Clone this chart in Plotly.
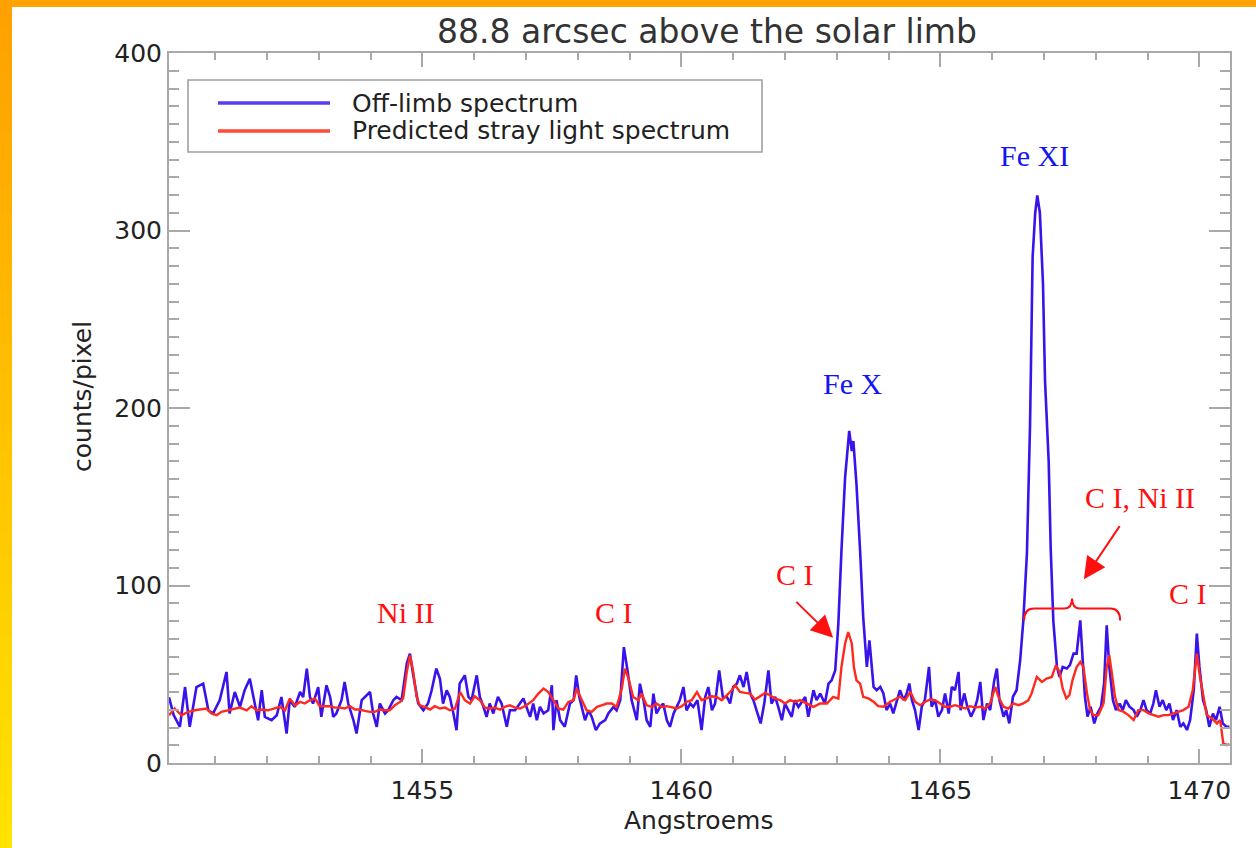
import plotly.graph_objects as go

# ---------------- data ----------------
blue_wl = [
    1450.11, 1450.20, 1450.32, 1450.42, 1450.51, 1450.64, 1450.77, 1450.87, 1450.96, 1451.09,
    1451.22, 1451.28, 1451.38, 1451.48, 1451.57, 1451.67, 1451.74, 1451.83, 1451.90, 1451.96,
    1452.09, 1452.19, 1452.28, 1452.38, 1452.44, 1452.54, 1452.64, 1452.70, 1452.77, 1452.83,
    1452.89, 1452.99, 1453.05, 1453.15, 1453.22, 1453.28, 1453.34, 1453.44, 1453.50, 1453.57,
    1453.67, 1453.73, 1453.83, 1453.89, 1453.99, 1454.05, 1454.12, 1454.18, 1454.28, 1454.34,
    1454.44, 1454.50, 1454.60, 1454.70, 1454.76, 1454.82, 1454.92, 1455.02, 1455.11, 1455.18,
    1455.27, 1455.34, 1455.40, 1455.47, 1455.53, 1455.60, 1455.66, 1455.72, 1455.82, 1455.89,
    1455.95, 1456.05, 1456.11, 1456.18, 1456.24, 1456.30, 1456.37, 1456.46, 1456.53, 1456.63,
    1456.69, 1456.79, 1456.88, 1456.95,
    1457.08, 1457.14, 1457.21, 1457.27, 1457.34, 1457.43, 1457.50, 1457.53, 1457.59, 1457.66,
    1457.75, 1457.85, 1457.92, 1457.97, 1458.03, 1458.08, 1458.14, 1458.21, 1458.27, 1458.35,
    1458.43, 1458.53, 1458.59, 1458.69, 1458.75, 1458.82, 1458.89, 1458.96, 1459.04, 1459.14,
    1459.20, 1459.27, 1459.33, 1459.40, 1459.46, 1459.52, 1459.59, 1459.65, 1459.72, 1459.78,
    1459.85, 1459.91, 1459.97, 1460.04, 1460.10, 1460.17, 1460.23, 1460.31, 1460.39, 1460.46,
    1460.52, 1460.59, 1460.65, 1460.73, 1460.80, 1460.88, 1460.94, 1461.00, 1461.07, 1461.13,
    1461.20, 1461.26, 1461.33, 1461.39, 1461.47, 1461.53, 1461.60, 1461.68, 1461.74, 1461.81,
    1461.87, 1461.94, 1462.00, 1462.07, 1462.13, 1462.19, 1462.26,
    1462.39, 1462.45, 1462.55, 1462.61, 1462.68, 1462.77, 1462.84, 1462.90, 1462.97, 1463.03,
    1463.09, 1463.16, 1463.24, 1463.29, 1463.32, 1463.38, 1463.45, 1463.51, 1463.58, 1463.63,
    1463.71, 1463.77, 1463.84, 1463.90, 1463.96, 1464.03, 1464.09, 1464.16, 1464.22, 1464.29,
    1464.35, 1464.40, 1464.45, 1464.51, 1464.58, 1464.64, 1464.70, 1464.78, 1464.83, 1464.90,
    1464.96, 1465.03, 1465.09, 1465.16, 1465.22, 1465.28, 1465.35, 1465.39, 1465.46, 1465.52,
    1465.59, 1465.65, 1465.71, 1465.77, 1465.83, 1465.90, 1465.96, 1466.04, 1466.09, 1466.14,
    1466.22, 1466.27, 1466.33, 1466.40, 1466.47, 1466.54,
    1466.60, 1466.67, 1466.73, 1466.78, 1466.83, 1466.87, 1466.92, 1466.98, 1467.02, 1467.09,
    1467.13, 1467.18,
    1467.25, 1467.30, 1467.36, 1467.44, 1467.50, 1467.57, 1467.63, 1467.70, 1467.75, 1467.79,
    1467.84, 1467.90, 1467.97, 1468.03, 1468.10, 1468.16, 1468.21, 1468.26, 1468.33, 1468.39,
    1468.46, 1468.52, 1468.58, 1468.65, 1468.73, 1468.79, 1468.86, 1468.92, 1468.98, 1469.05,
    1469.11, 1469.16, 1469.23, 1469.29, 1469.36, 1469.42, 1469.49, 1469.56, 1469.63, 1469.69,
    1469.76, 1469.82, 1469.89, 1469.95, 1470.00, 1470.07, 1470.13, 1470.19, 1470.26, 1470.32,
    1470.39, 1470.45, 1470.52, 1470.58,
]
blue_counts = [
    37.0, 27.0, 20.4, 42.8, 20.4, 42.8, 44.7, 29.7, 27.9, 35.4,
    51.3, 27.9, 40.0, 31.6, 41.0, 47.5, 37.2, 24.1, 41.0, 26.0,
    24.1, 26.9, 37.2, 16.6, 35.4, 31.6, 40.0, 37.2, 53.2, 37.2,
    33.5, 42.8, 26.0, 43.8, 37.2, 26.0, 27.9, 35.4, 45.7, 33.5,
    24.1, 16.6, 35.4, 37.2, 40.0, 27.9, 20.4, 33.5, 27.9, 29.7,
    35.4, 37.2, 35.4, 56.0, 61.6, 50.3, 33.5, 29.7, 33.5, 41.0,
    53.2, 47.5, 33.5, 41.0, 37.2, 27.9, 18.5, 44.7, 49.4, 37.2,
    35.4, 49.4, 37.2, 31.6, 26.0, 33.5, 27.9, 37.2, 33.5, 20.4,
    29.7, 29.7, 33.5, 36.3,
    26.0, 33.5, 24.1, 31.6, 27.9, 29.7, 43.8, 18.5, 35.4, 24.1,
    20.4, 33.5, 35.4, 49.4, 37.2, 31.6, 24.1, 29.7, 26.0, 18.5,
    22.3, 24.1, 27.9, 31.6, 29.7, 35.4, 65.3, 52.2, 35.4, 24.1,
    44.7, 35.4, 24.1, 20.4, 39.1, 27.9, 31.6, 33.5, 24.1, 20.4,
    27.9, 31.6, 35.4, 42.8, 29.7, 33.5, 31.6, 35.4, 18.5, 37.2,
    42.8, 29.7, 33.5, 52.2, 37.2, 37.2, 33.5, 42.8, 44.7, 49.4,
    42.8, 51.3, 39.1, 35.4, 27.9, 22.3, 33.5, 52.2, 33.5, 37.2,
    31.6, 24.1, 33.5, 29.7, 26.0, 35.4, 31.6,
    37.2, 26.0, 41.0, 35.4, 39.1, 33.5, 44.7, 46.6, 52.2, 78.4,
    119.6, 160.8, 187.1, 175.8, 181.4, 157.1, 119.6, 82.2, 54.1, 69.1,
    42.9, 41.0, 42.9, 39.2, 29.8, 33.5, 27.9, 35.4, 41.0, 35.4,
    39.2, 44.8, 35.4, 29.8, 18.6, 31.7, 35.4, 54.1, 31.7, 35.4,
    26.1, 29.8, 39.2, 27.9, 42.9, 41.0, 51.3, 29.8, 39.2, 31.7,
    26.1, 29.8, 35.4, 45.7, 24.2, 33.5, 29.8, 46.7, 53.2, 35.4,
    26.1, 29.8, 22.3, 37.3, 41.0, 57.9,
    80.0, 118.0, 190.0, 285.0, 310.0, 319.7, 310.0, 270.0, 215.0, 170.0,
    120.0, 80.0,
    54.1, 48.5, 54.1, 53.2, 55.1, 61.6, 61.6, 80.4, 56.0, 37.3,
    26.1, 31.7, 22.3, 27.9, 31.7, 44.8, 77.6, 54.1, 35.4, 29.8,
    33.5, 29.8, 35.4, 31.7, 29.8, 26.1, 29.8, 35.4, 29.8, 27.9,
    33.5, 41.0, 31.7, 35.4, 29.8, 33.5, 24.2, 29.8, 20.4, 22.3,
    18.6, 24.2, 41.0, 72.9, 54.1, 35.4, 29.8, 20.4, 27.9, 24.2,
    31.7, 22.3, 20.4, 20.4,
]

red_wl = [
    1450.11, 1450.22, 1450.35, 1450.48, 1450.61, 1450.74, 1450.83, 1450.93, 1451.03, 1451.12,
    1451.25, 1451.38, 1451.48, 1451.61, 1451.70, 1451.80, 1451.90, 1452.02, 1452.12, 1452.25,
    1452.35, 1452.44, 1452.54, 1452.64, 1452.73, 1452.83, 1452.93, 1453.02, 1453.12, 1453.22,
    1453.31, 1453.41, 1453.50, 1453.60, 1453.70, 1453.79, 1453.89, 1453.99, 1454.08, 1454.18,
    1454.28, 1454.37, 1454.47, 1454.57, 1454.63, 1454.70, 1454.76, 1454.82, 1454.89, 1454.95,
    1455.05, 1455.15, 1455.24, 1455.34, 1455.44, 1455.53, 1455.63, 1455.73, 1455.82, 1455.92,
    1456.01, 1456.11, 1456.21, 1456.30, 1456.40, 1456.50, 1456.59, 1456.69, 1456.79,
    1456.89, 1457.01, 1457.14, 1457.24, 1457.34, 1457.43, 1457.53, 1457.63, 1457.72, 1457.82,
    1457.92, 1457.98, 1458.08, 1458.17, 1458.27, 1458.37, 1458.46, 1458.56, 1458.66, 1458.75,
    1458.85, 1458.91, 1458.98, 1459.07, 1459.17, 1459.23, 1459.33, 1459.43, 1459.52, 1459.62,
    1459.72, 1459.81, 1459.91, 1460.01, 1460.10, 1460.20, 1460.30, 1460.39, 1460.49, 1460.59,
    1460.68, 1460.78, 1460.88, 1460.97, 1461.04, 1461.13, 1461.23, 1461.33, 1461.42, 1461.52,
    1461.62, 1461.71, 1461.81, 1461.91, 1462.00, 1462.10, 1462.19,
    1462.29, 1462.42, 1462.55, 1462.68, 1462.81, 1462.93, 1463.03, 1463.09, 1463.16, 1463.22,
    1463.29, 1463.33, 1463.38, 1463.45,
    1463.51, 1463.61, 1463.71, 1463.80, 1463.90, 1464.03, 1464.13, 1464.22, 1464.32, 1464.42,
    1464.51, 1464.61, 1464.71, 1464.80, 1464.90, 1464.99, 1465.09, 1465.19, 1465.28, 1465.38,
    1465.48, 1465.57, 1465.67, 1465.77, 1465.86, 1465.96, 1466.06, 1466.12, 1466.22, 1466.31,
    1466.41, 1466.51, 1466.60, 1466.70, 1466.76, 1466.86, 1466.96, 1467.05, 1467.15, 1467.23,
    1467.30, 1467.36, 1467.43, 1467.49, 1467.55, 1467.63, 1467.70, 1467.76, 1467.83, 1467.89,
    1467.95, 1468.05, 1468.15, 1468.21, 1468.26, 1468.31, 1468.37, 1468.44, 1468.53, 1468.63,
    1468.73, 1468.82, 1468.92, 1469.02, 1469.11, 1469.21, 1469.31, 1469.40, 1469.50, 1469.60,
    1469.69, 1469.79, 1469.87, 1469.95, 1470.01, 1470.08, 1470.14, 1470.24, 1470.34, 1470.40,
    1470.46, 1470.53, 1470.58,
]
red_counts = [
    26.9, 30.7, 26.9, 28.8, 29.7, 30.1, 30.7, 27.9, 26.9, 28.8,
    29.7, 30.7, 31.2, 29.7, 32.0, 29.7, 30.1, 29.7, 30.7, 31.6,
    29.7, 36.3, 32.5, 34.4, 33.5, 35.4, 36.3, 32.0, 32.0, 32.0,
    31.2, 31.2, 30.7, 32.0, 30.1, 30.1, 29.4, 28.8, 28.8, 30.1,
    29.7, 29.7, 32.5, 34.4, 36.3, 51.3, 60.6, 52.2, 37.2, 32.5,
    31.6, 30.1, 32.0, 30.7, 31.2, 29.7, 30.7, 40.0, 35.4, 33.5,
    37.6, 35.4, 31.2, 30.7, 31.2, 30.1, 31.6, 32.5, 31.2,
    30.7, 32.5, 35.4, 39.1, 41.9, 40.0, 35.4, 30.7, 30.1, 34.4,
    35.4, 41.9, 35.4, 29.7, 28.8, 31.6, 32.5, 33.5, 33.5, 31.6,
    41.9, 53.2, 47.5, 37.2, 35.4, 39.1, 32.5, 31.6, 33.5, 31.6,
    32.0, 31.2, 30.7, 32.0, 34.4, 35.4, 40.0, 35.4, 36.3, 37.6,
    37.2, 35.4, 38.2, 41.0, 43.8, 40.0, 39.5, 39.1, 35.7, 37.6,
    39.5, 38.2, 36.3, 35.4, 33.5, 35.4, 34.4,
    35.4, 33.5, 31.6, 33.5, 33.5, 37.2, 36.3, 54.1, 67.2, 73.8,
    67.2, 54.1, 46.6, 44.7,
    37.3, 36.4, 34.5, 32.0, 31.7, 34.5, 35.8, 37.3, 35.4, 40.1,
    34.5, 32.6, 34.5, 35.8, 35.4, 33.6, 31.7, 31.7, 32.6, 31.7,
    30.7, 32.0, 31.3, 31.7, 30.7, 33.6, 42.9, 37.3, 31.7, 30.7,
    33.6, 32.6, 33.6, 35.4, 39.2, 48.5, 45.7, 47.6, 48.5, 55.1,
    51.3, 42.0, 36.4, 38.2, 46.7, 54.1, 57.0, 54.1, 39.2, 29.8,
    27.0, 27.0, 33.6, 54.1, 60.7, 50.4, 37.3, 29.8, 28.9, 27.0,
    24.2, 29.8, 29.8, 28.0, 27.0, 26.1, 27.0, 27.0, 28.0, 28.9,
    29.8, 31.7, 41.0, 61.6, 48.5, 37.3, 27.0, 25.1, 22.3, 24.2,
    11.1, 10.1, 10.7,
]

series_names = ["Off-limb spectrum", "Predicted stray light spectrum"]

x_range = [1450.11, 1470.59]
y_range = [0, 400]
x_major, x_minor = 5, 1
y_major, y_minor = 100, 10

title_text = "88.8 arcsec above the solar limb"
x_title = "Angstroems"
y_title = "counts/pixel"

# line identification labels: (text, wavelength, counts, colour key)
line_labels = [
    ("Ni II", 1454.67, 85.0, "red"),
    ("C I", 1458.70, 85.0, "red"),
    ("C I", 1462.19, 106.0, "red"),
    ("Fe X", 1463.31, 214.0, "blue"),
    ("Fe XI", 1466.81, 342.5, "blue"),
    ("C I, Ni II", 1468.86, 149.5, "red"),
    ("C I", 1469.78, 95.5, "red"),
]
# arrows: (tip wavelength, tip counts, tail wavelength, tail counts)
arrows = [
    (1462.93, 70.5, 1462.19, 91.6),
    (1467.77, 103.5, 1468.48, 134.3),
]
# brace under "C I, Ni II": left, middle, right wavelength; end, base and tip counts
brace = dict(left=1466.616, mid=1467.542, right=1468.469, low=80.3, base=87.1, tip=92.7)

# ---------------- styling ----------------
BLUE = "#3a12ea"
RED = "#ff2a1f"
TXT_BLUE = "#1414f0"
TXT_RED = "#ff1010"
AXIS_GREY = "#a9a9a9"
SANS = "DejaVu Sans"
SERIF = "Liberation Serif"

W, H = 1256, 848
ML, MR, MT, MB = 169, 26, 53, 85
PW, PH = W - ML - MR, H - MT - MB


def px(x):
    return (x - ML) / PW


def py(y):
    return 1 - (y - MT) / PH


fig = go.Figure()
fig.add_trace(go.Scatter(x=blue_wl, y=blue_counts, mode="lines", name=series_names[0],
                         line=dict(color=BLUE, width=2.6), showlegend=False, hoverinfo="skip"))
fig.add_trace(go.Scatter(x=red_wl, y=red_counts, mode="lines", name=series_names[1],
                         line=dict(color=RED, width=2.4), showlegend=False, hoverinfo="skip"))

axis_common = dict(showline=True, linecolor=AXIS_GREY, linewidth=2, mirror="allticks",
                   ticks="inside", tickcolor=AXIS_GREY, tickwidth=1.6, showgrid=False,
                   zeroline=False, tickfont=dict(family=SANS, size=25, color="#222222"))
fig.update_xaxes(range=x_range, tick0=1450, dtick=x_major, ticklen=14, ticklabelstandoff=4,
                 minor=dict(ticks="inside", dtick=x_minor, ticklen=7, tickcolor=AXIS_GREY,
                            tickwidth=1.6, showgrid=False),
                 **axis_common)
fig.update_yaxes(range=y_range, tick0=0, dtick=y_major, ticklen=21, ticklabelstandoff=0,
                 minor=dict(ticks="inside", dtick=y_minor, ticklen=10, tickcolor=AXIS_GREY,
                            tickwidth=1.6, showgrid=False),
                 **axis_common)

shapes = []
annotations = []

# orange / yellow frame at top and left
shapes.append(dict(type="rect", xref="paper", yref="paper", x0=px(0), x1=px(W), y0=py(7), y1=py(0),
                   fillcolor="#ffa400", line=dict(width=0), layer="above"))
n_seg = 32
for i in range(n_seg):
    y0 = H * i / n_seg
    y1 = H * (i + 1) / n_seg
    g = int(160 + 68 * (i + 0.5) / n_seg)
    shapes.append(dict(type="rect", xref="paper", yref="paper", x0=px(0), x1=px(12),
                       y0=py(y1 + 0.5), y1=py(y0), fillcolor=f"rgb(255,{g},0)",
                       line=dict(width=0), layer="above"))

# manual legend box
shapes.append(dict(type="rect", xref="paper", yref="paper", x0=px(188), x1=px(762),
                   y0=py(152), y1=py(80), line=dict(color="#a0a0a0", width=1.6),
                   fillcolor="rgba(0,0,0,0)"))
for name, col, yy in [(series_names[0], "#5b3cf0", 103), (series_names[1], "#ff4a3a", 131)]:
    shapes.append(dict(type="line", xref="paper", yref="paper", x0=px(218), x1=px(330),
                       y0=py(yy), y1=py(yy), line=dict(color=col, width=3.5)))
    annotations.append(dict(text=name, xref="paper", yref="paper", x=px(350), y=py(yy),
                            xanchor="left", yanchor="middle", showarrow=False,
                            font=dict(family=SANS, size=25, color="#222222")))

# titles
annotations.append(dict(text=title_text, xref="paper", yref="paper", x=px(707), y=py(31),
                        xanchor="center", yanchor="middle", showarrow=False,
                        font=dict(family=SANS, size=33, color="#333333")))
annotations.append(dict(text=x_title, xref="paper", yref="paper", x=px(698), y=py(821),
                        xanchor="center", yanchor="middle", showarrow=False,
                        font=dict(family=SANS, size=25, color="#222222")))
annotations.append(dict(text=y_title, xref="paper", yref="paper", x=px(82), y=py(397),
                        xanchor="center", yanchor="middle", showarrow=False, textangle=-90,
                        font=dict(family=SANS, size=25, color="#222222")))

# spectral line labels
for text, wl, ct, key in line_labels:
    annotations.append(dict(text=text, x=wl, y=ct, xref="x", yref="y", showarrow=False,
                            xanchor="center", yanchor="middle",
                            font=dict(family=SERIF, size=30,
                                      color=TXT_RED if key == "red" else TXT_BLUE)))

for tx, ty, sx, sy in arrows:
    annotations.append(dict(text="", x=tx, y=ty, ax=sx, ay=sy, xref="x", yref="y",
                            axref="x", ayref="y", showarrow=True, arrowhead=2, arrowsize=2.2,
                            arrowwidth=2, arrowcolor=TXT_RED))

b = brace
qx = 0.19  # horizontal extent of the brace corner curves (Angstrom)
path = (f"M {b['left']},{b['low']} Q {b['left']},{b['base']} {b['left'] + qx},{b['base']} "
        f"L {b['mid'] - 0.15},{b['base']} Q {b['mid']},{b['base']} {b['mid']},{b['tip']} "
        f"Q {b['mid']},{b['base']} {b['mid'] + 0.15},{b['base']} "
        f"L {b['right'] - qx},{b['base']} Q {b['right']},{b['base']} {b['right']},{b['low']}")
shapes.append(dict(type="path", xref="x", yref="y", path=path,
                   line=dict(color=TXT_RED, width=2)))

fig.update_layout(width=W, height=H, margin=dict(l=ML, r=MR, t=MT, b=MB, pad=0),
                  paper_bgcolor="white", plot_bgcolor="white", showlegend=False,
                  shapes=shapes, annotations=annotations)

fig.write_html("out.html", config={"displayModeBar": False})
